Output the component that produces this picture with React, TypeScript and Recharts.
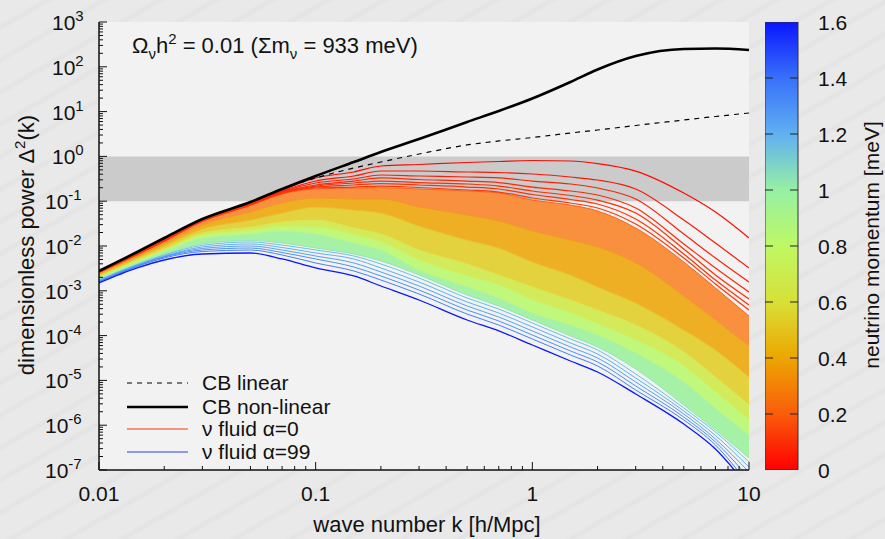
import React from "react";
import {
  ComposedChart,
  Line,
  Area,
  XAxis,
  YAxis,
  ReferenceArea,
  Legend,
  BarChart,
  Bar,
} from "recharts";

const FONT = "'Liberation Sans', Arial, Helvetica, sans-serif";

const kValues = [0.01, 0.015, 0.02, 0.03, 0.05, 0.07, 0.1, 0.15, 0.2, 0.3, 0.5, 0.7, 1, 1.5, 2, 3, 5, 7, 10];

// cold matter + baryons
const cbLinear = [2.77e-3, 7.35e-3, 1.51e-2, 4.01e-2, 9.6e-2, 0.187, 0.33, 0.55, 0.75, 1.13, 1.8, 2.21, 2.64, 3.33, 3.88, 4.9, 6.49, 7.78, 9.31];
const cbNonLinear = [2.77e-3, 7.35e-3, 1.51e-2, 4.01e-2, 9.6e-2, 0.187, 0.365, 0.75, 1.25, 2.44, 5.86, 10.3, 19.6, 45.8, 87, 174, 250, 256, 237];

// separate low-momentum fluids at the top of the fan (alpha = 0..6)
const fluid0 = [2.72e-3, 6.98e-3, 1.4e-2, 3.91e-2, 9.12e-2, 0.178, 0.33, 0.449, 0.61, 0.66, 0.73, 0.77, 0.81, 0.79, 0.69, 0.47, 0.152, 0.0574, 0.0151];
const fluid1 = [2.63e-3, 6.8e-3, 1.36e-2, 3.8e-2, 8.89e-2, 0.169, 0.282, 0.365, 0.472, 0.472, 0.449, 0.437, 0.405, 0.347, 0.297, 0.187, 0.038, 0.01167, 3.23e-3];
const fluid2 = [2.63e-3, 6.8e-3, 1.36e-2, 3.8e-2, 8.66e-2, 0.165, 0.255, 0.313, 0.384, 0.365, 0.347, 0.33, 0.282, 0.242, 0.197, 0.112, 0.0185, 5.4e-3, 1.57e-3];
const fluid3 = [2.63e-3, 6.63e-3, 1.33e-2, 3.71e-2, 8.44e-2, 0.16, 0.23, 0.282, 0.33, 0.305, 0.282, 0.261, 0.207, 0.169, 0.1375, 0.0705, 0.0111, 3.23e-3, 9.4e-4];
const fluid4 = [2.63e-3, 6.63e-3, 1.33e-2, 3.71e-2, 8.44e-2, 0.156, 0.218, 0.255, 0.282, 0.261, 0.242, 0.218, 0.169, 0.134, 0.106, 0.0545, 8.57e-3, 2.25e-3, 6.56e-4];
const fluid5 = [2.63e-3, 6.63e-3, 1.29e-2, 3.61e-2, 8.22e-2, 0.152, 0.207, 0.23, 0.248, 0.23, 0.207, 0.187, 0.141, 0.109, 0.0866, 0.0401, 6.63e-3, 1.74e-3, 4.82e-4];
const fluid6 = [2.56e-3, 6.46e-3, 1.29e-2, 3.61e-2, 8.22e-2, 0.149, 0.197, 0.207, 0.218, 0.202, 0.178, 0.16, 0.118, 0.0912, 0.0705, 0.031, 5.4e-3, 1.42e-3, 3.73e-4];

// the dense middle of the fan, read where the colour changes
const denseTop = [2.56e-3, 6.3e-3, 1.26e-2, 3.52e-2, 8.02e-2, 0.145, 0.187, 0.197, 0.2, 0.187, 0.169, 0.152, 0.106, 0.0822, 0.0604, 0.0252, 4.4e-3, 1.16e-3, 2.74e-4];
const denseOrange = [2.43e-3, 5.83e-3, 1.14e-2, 2.94e-2, 5.74e-2, 9.12e-2, 0.118, 0.112, 0.112, 0.0743, 0.0492, 0.0361, 0.0216, 0.0136, 9.5e-3, 4.18e-3, 7.65e-4, 2.23e-4, 5.86e-5];
const denseAmber = [2.25e-3, 5.4e-3, 1.0e-2, 2.4e-2, 3.8e-2, 5.45e-2, 0.0743, 0.0636, 0.0545, 0.0279, 0.0136, 9.02e-3, 4.4e-3, 2.25e-3, 1.22e-3, 5.34e-4, 1.33e-4, 4.77e-5, 1.19e-5];
const denseYellow = [2.08e-3, 4.87e-3, 8.57e-3, 1.95e-2, 2.65e-2, 3.43e-2, 0.038, 0.0252, 0.0185, 8.14e-3, 3.97e-3, 2.25e-3, 1.22e-3, 6.23e-4, 3.73e-4, 1.72e-4, 4.3e-5, 1.19e-5, 2.83e-6];
const denseLime = [1.98e-3, 4.63e-3, 7.94e-3, 1.72e-2, 2.22e-2, 2.72e-2, 2.65e-2, 1.76e-2, 1.23e-2, 4.87e-3, 2.14e-3, 1.35e-3, 6.23e-4, 3.19e-4, 1.82e-4, 7.98e-5, 2.1e-5, 5.5e-6, 1.31e-6];
const denseGreen = [1.93e-3, 4.4e-3, 7.54e-3, 1.51e-2, 1.85e-2, 2.16e-2, 1.85e-2, 1.17e-2, 8.14e-3, 2.91e-3, 1.22e-3, 6.9e-4, 3.19e-4, 1.72e-4, 1.03e-4, 4.09e-5, 9.2e-6, 2.42e-6, 6.04e-7];
const denseCyan = [1.79e-3, 3.97e-3, 6.46e-3, 1.11e-2, 1.33e-2, 1.17e-2, 9.02e-3, 6.63e-3, 4.63e-3, 2.25e-3, 8.06e-4, 4.58e-4, 2.23e-4, 9.8e-5, 5.57e-5, 1.8e-5, 2.83e-6, 7.8e-7, 1.85e-7];

// separate high-momentum fluids at the bottom (light blue ones, then alpha = 99)
const fluid94 = [1.74e-3, 3.87e-3, 6.3e-3, 1.03e-2, 1.23e-2, 1.05e-2, 8.14e-3, 5.98e-3, 3.97e-3, 1.93e-3, 6.9e-4, 3.92e-4, 1.91e-4, 8.4e-5, 4.77e-5, 1.39e-5, 2.42e-6, 7.05e-7, 1.51e-7];
const fluid95 = [1.7e-3, 3.77e-3, 5.98e-3, 9.5e-3, 1.11e-2, 9.26e-3, 6.98e-3, 5.13e-3, 3.23e-3, 1.57e-3, 5.62e-4, 3.19e-4, 1.56e-4, 6.84e-5, 3.88e-5, 1.13e-5, 2.07e-6, 5.89e-7, 1.17e-7];
const fluid96 = [1.66e-3, 3.67e-3, 5.83e-3, 8.8e-3, 1.0e-2, 8.14e-3, 5.98e-3, 4.18e-3, 2.63e-3, 1.28e-3, 4.58e-4, 2.6e-4, 1.27e-4, 5.57e-5, 3.16e-5, 9.2e-6, 1.78e-6, 4.92e-7, 9.0e-8];
const fluid97 = [1.61e-3, 3.58e-3, 5.68e-3, 8.14e-3, 9.02e-3, 7.16e-3, 5.13e-3, 3.4e-3, 2.14e-3, 1.04e-3, 3.73e-4, 2.12e-4, 1.03e-4, 4.53e-5, 2.58e-5, 7.5e-6, 1.52e-6, 4.22e-7, 6.6e-8];
const fluid98 = [1.57e-3, 3.49e-3, 5.4e-3, 7.54e-3, 8.14e-3, 6.3e-3, 4.18e-3, 2.77e-3, 1.74e-3, 8.49e-4, 3.03e-4, 1.72e-4, 8.4e-5, 3.69e-5, 2.1e-5, 6.1e-6, 1.31e-6, 3.61e-7, 4.6e-8];
const fluid99 = [1.49e-3, 3.23e-3, 4.87e-3, 6.63e-3, 6.98e-3, 5.13e-3, 3.23e-3, 2.14e-3, 1.28e-3, 6.23e-4, 2.23e-4, 1.27e-4, 6.17e-5, 2.71e-5, 1.54e-5, 4.97e-6, 1.06e-6, 2.94e-7, 3.96e-8];

// neutrino momentum [meV] of each curve
const topMomenta = [0.02, 0.05, 0.07, 0.09, 0.1, 0.11, 0.12];
const denseMomenta = [0.18, 0.33, 0.45, 0.6, 0.75, 0.9, 1.05];
const bottomMomenta = [1.15, 1.2, 1.25, 1.3, 1.35, 1.6];

const xTicks = [0.01, 0.02, 0.03, 0.04, 0.05, 0.06, 0.07, 0.08, 0.09, 0.1, 0.2, 0.3, 0.4, 0.5, 0.6, 0.7, 0.8, 0.9, 1, 2, 3, 4, 5, 6, 7, 8, 9, 10];
const yDecades = [1e-7, 1e-6, 1e-5, 1e-4, 1e-3, 1e-2, 1e-1, 1, 10, 100, 1000];
const minorSteps = [2, 3, 4, 5, 6, 7, 8, 9];
const yTicks = yDecades.flatMap((d) => (d < 1000 ? [d, ...minorSteps.map((m) => m * d)] : [d]));
const colorbarTicks = [0, 0.2, 0.4, 0.6, 0.8, 1, 1.2, 1.4, 1.6];
const colorbarData = [{ name: "momentum", top: 1.6 }];

// colour map of the colour box, momentum -> rgb
const colorStops: number[][] = [
  [0, 255, 0, 0],
  [0.2, 250, 92, 12],
  [0.4, 236, 166, 0],
  [0.6, 216, 224, 56],
  [0.8, 190, 248, 100],
  [1.0, 150, 240, 164],
  [1.2, 96, 176, 242],
  [1.4, 56, 112, 250],
  [1.6, 10, 22, 255],
];

// whiten mixes the colour with white, the dense fan looks paler than the box
function momentumColor(p: number, whiten = 0): string {
  for (let i = 1; i < colorStops.length; i++) {
    const [p1, r1, g1, b1] = colorStops[i];
    const [p0, r0, g0, b0] = colorStops[i - 1];
    if (p <= p1) {
      const t = (p - p0) / (p1 - p0);
      const c = (a: number, b: number) => {
        const v = a + (b - a) * t;
        return Math.round(v + (255 - v) * whiten);
      };
      return `rgb(${c(r0, r1)},${c(g0, g1)},${c(b0, b1)})`;
    }
  }
  return "rgb(10,22,255)";
}

// the striped top of the fan shows a lot of background between its lines
const bandWhiten = [0.22, 0.14, 0.12, 0.1, 0.1, 0.1];

const topSeries = [fluid0, fluid1, fluid2, fluid3, fluid4, fluid5, fluid6].map((values, i) => ({
  key: `top${i}`,
  values,
  color: momentumColor(topMomenta[i]),
}));
const denseSeries = [denseTop, denseOrange, denseAmber, denseYellow, denseLime, denseGreen, denseCyan].map(
  (values, i) => ({ key: `dense${i}`, values, p: denseMomenta[i], color: momentumColor(denseMomenta[i], 0.1) })
);
const bottomSeries = [fluid94, fluid95, fluid96, fluid97, fluid98, fluid99].map((values, i) => ({
  key: `bottom${i}`,
  values,
  color: momentumColor(bottomMomenta[i]),
}));

const chartData = kValues.map((k, i) => {
  const row: Record<string, number> = { k, lin: cbLinear[i], nl: cbNonLinear[i] };
  [...topSeries, ...denseSeries, ...bottomSeries].forEach((s) => {
    row[s.key] = s.values[i];
  });
  return row;
});

const isMajor = (v: number) => {
  const l = Math.log10(v);
  return Math.abs(l - Math.round(l)) < 1e-6;
};

const BottomTick = (props: any) => {
  const { x, y, payload } = props;
  const major = isMajor(payload.value);
  return (
    <g>
      <line x1={x} x2={x} y1={y} y2={y - (major ? 8 : 4)} stroke="#111" strokeWidth={1} />
      {major && (
        <text x={x} y={y + 31} textAnchor="middle" fontSize={21} fontFamily={FONT} fill="#111">
          {String(payload.value)}
        </text>
      )}
    </g>
  );
};

const TopTick = (props: any) => {
  const { x, y, payload } = props;
  const major = isMajor(payload.value);
  return <line x1={x} x2={x} y1={y} y2={y + (major ? 8 : 4)} stroke="#111" strokeWidth={1} />;
};

const LeftTick = (props: any) => {
  const { x, y, payload } = props;
  const major = isMajor(payload.value);
  const exp = Math.round(Math.log10(payload.value));
  return (
    <g>
      <line x1={x} x2={x + (major ? 8 : 4)} y1={y} y2={y} stroke="#111" strokeWidth={1} />
      {major && (
        <text x={exp < 0 ? 45 : 52} y={y + 8} fontSize={21} fontFamily={FONT} fill="#111">
          10
          <tspan dy={-9} fontSize={15}>
            {String(exp)}
          </tspan>
        </text>
      )}
    </g>
  );
};

const RightTick = (props: any) => {
  const { x, y, payload } = props;
  const major = isMajor(payload.value);
  return <line x1={x} x2={x - (major ? 8 : 4)} y1={y} y2={y} stroke="#111" strokeWidth={1} />;
};

const ColorbarTick = (props: any) => {
  const { x, y, payload } = props;
  const inner = payload.value > 0 && payload.value < 1.6;
  return (
    <g>
      {inner && <line x1={x} x2={x - 8} y1={y} y2={y} stroke="#222" strokeWidth={1} />}
      {inner && <line x1={x - 33} x2={x - 25} y1={y} y2={y} stroke="#222" strokeWidth={1} />}
      <text x={x + 20} y={y + 8} fontSize={21} fontFamily={FONT} fill="#111">
        {String(payload.value)}
      </text>
    </g>
  );
};

function renderLegend() {
  const rows = [
    { label: "CB linear", stroke: "#000", width: 1.2, dash: "5 5" },
    { label: "CB non-linear", stroke: "#000", width: 2.6, dash: undefined },
    { label: "\u03bd fluid \u03b1=0", stroke: "#f4735f", width: 1.4, dash: undefined },
    { label: "\u03bd fluid \u03b1=99", stroke: "#2a3cf2", width: 1.2, dash: undefined },
  ];
  const ys = [15, 39, 61, 84];
  return (
    <svg width={260} height={100}>
      {rows.map((r, i) => (
        <g key={r.label}>
          <line x1={7} x2={68} y1={ys[i]} y2={ys[i]} stroke={r.stroke} strokeWidth={r.width} strokeDasharray={r.dash} />
          <text x={82} y={ys[i] + 7} fontSize={21} fontFamily={FONT} fill="#111">
            {r.label}
          </text>
        </g>
      ))}
    </svg>
  );
}

export default function App() {
  return (
    <div
      style={{
        position: "fixed",
        left: 0,
        top: 0,
        width: 885,
        height: 539,
        overflow: "hidden",
        fontFamily: FONT,
        background: "repeating-linear-gradient(150deg, #e9e9e9 0px, #e9e9e9 20px, #e3e3e3 24px, #e9e9e9 28px)",
      }}
    >
      <div style={{ position: "absolute", left: 0, top: 0 }}>
        <ComposedChart width={885} height={539} data={chartData} margin={{ top: 22, right: 136, bottom: 0, left: 0 }}>
          <ReferenceArea xAxisId="b" yAxisId="l" x1={0.01} x2={10} y1={1e-7} y2={1e3} fill="#f2f2f2" fillOpacity={1} stroke="none" ifOverflow="hidden" />
          <ReferenceArea xAxisId="b" yAxisId="l" x1={0.01} x2={10} y1={0.1} y2={1} fill="#cbcbcb" fillOpacity={1} stroke="none" ifOverflow="hidden" />
          <XAxis
            xAxisId="b"
            dataKey="k"
            type="number"
            scale="log"
            domain={[0.01, 10]}
            allowDataOverflow
            ticks={xTicks}
            interval={0}
            tick={BottomTick}
            tickLine={false}
            tickSize={0}
            tickMargin={0}
            height={69}
            axisLine={{ stroke: "#111", strokeWidth: 1.5 }}
          />
          <XAxis
            xAxisId="t"
            orientation="top"
            dataKey="k"
            type="number"
            scale="log"
            domain={[0.01, 10]}
            allowDataOverflow
            ticks={xTicks}
            interval={0}
            tick={TopTick}
            tickLine={false}
            tickSize={0}
            tickMargin={0}
            height={0}
            axisLine={{ stroke: "#111", strokeWidth: 1.5 }}
          />
          <YAxis
            yAxisId="l"
            type="number"
            scale="log"
            domain={[1e-7, 1e3]}
            allowDataOverflow
            ticks={yTicks}
            interval={0}
            tick={LeftTick}
            tickLine={false}
            tickSize={0}
            tickMargin={0}
            width={99}
            axisLine={{ stroke: "#111", strokeWidth: 1.5 }}
          />
          <YAxis
            yAxisId="r"
            orientation="right"
            type="number"
            scale="log"
            domain={[1e-7, 1e3]}
            allowDataOverflow
            ticks={yTicks}
            interval={0}
            tick={RightTick}
            tickLine={false}
            tickSize={0}
            tickMargin={0}
            width={0}
            axisLine={{ stroke: "#111", strokeWidth: 1.5 }}
          />
          {denseSeries.slice(0, -1).map((s, i) => {
            const lower = denseSeries[i + 1];
            return (
              <Area
                key={`band${i}`}
                xAxisId="b"
                yAxisId="l"
                type="monotone"
                dataKey={(d: any) => [d[lower.key], d[s.key]]}
                fill={momentumColor((s.p + lower.p) / 2, bandWhiten[i])}
                fillOpacity={1}
                stroke="none"
                dot={false}
                activeDot={false}
                isAnimationActive={false}
              />
            );
          })}
          {denseSeries.map((s) => (
            <Line key={s.key} xAxisId="b" yAxisId="l" type="monotone" dataKey={s.key} stroke={s.color} strokeWidth={1} dot={false} activeDot={false} isAnimationActive={false} />
          ))}
          {bottomSeries.map((s, i) => (
            <Line
              key={s.key}
              xAxisId="b"
              yAxisId="l"
              type="monotone"
              dataKey={s.key}
              stroke={s.color}
              strokeWidth={i === bottomSeries.length - 1 ? 1.3 : 1}
              dot={false}
              activeDot={false}
              isAnimationActive={false}
            />
          ))}
          {topSeries.map((s) => (
            <Line key={s.key} xAxisId="b" yAxisId="l" type="monotone" dataKey={s.key} stroke={s.color} strokeWidth={1.2} dot={false} activeDot={false} isAnimationActive={false} />
          ))}
          <Line xAxisId="b" yAxisId="l" type="monotone" dataKey="lin" stroke="#000" strokeWidth={1.2} strokeDasharray="5 5" dot={false} activeDot={false} isAnimationActive={false} />
          <Line xAxisId="b" yAxisId="l" type="monotone" dataKey="nl" stroke="#000" strokeWidth={2.6} dot={false} activeDot={false} isAnimationActive={false} />
          <Legend
            content={renderLegend}
            layout="vertical"
            align="center"
            verticalAlign="middle"
            wrapperStyle={{ left: 120, top: 368, width: 260, height: 100 }}
          />
        </ComposedChart>
      </div>

      <div style={{ position: "absolute", left: 765, top: 0 }}>
        <BarChart width={120} height={539} data={colorbarData} margin={{ top: 22, right: 0, bottom: 69, left: 0 }} barCategoryGap={0}>
          <defs>
            <linearGradient id="cbGrad" x1="0" y1="1" x2="0" y2="0">
              {colorStops.map((s) => (
                <stop key={s[0]} offset={s[0] / 1.6} stopColor={`rgb(${s[1]},${s[2]},${s[3]})`} />
              ))}
            </linearGradient>
          </defs>
          <XAxis dataKey="name" hide />
          <YAxis
            orientation="right"
            type="number"
            domain={[0, 1.6]}
            allowDataOverflow
            ticks={colorbarTicks}
            interval={0}
            tick={ColorbarTick}
            tickLine={false}
            tickSize={0}
            tickMargin={0}
            axisLine={false}
            width={87}
          />
          <Bar dataKey="top" fill="url(#cbGrad)" stroke="#333" strokeWidth={1} isAnimationActive={false} />
        </BarChart>
      </div>

      <svg width={885} height={539} style={{ position: "absolute", left: 0, top: 0, pointerEvents: "none" }}>
        <text x={132} y={53} fontSize={22} fontFamily={FONT} fill="#111">
          {"\u03a9"}
          <tspan dy={6} fontSize={15}>{"\u03bd"}</tspan>
          <tspan dy={-6}>h</tspan>
          <tspan dy={-9} fontSize={15}>2</tspan>
          <tspan dy={9}>{" = 0.01 (\u03a3m"}</tspan>
          <tspan dy={6} fontSize={15}>{"\u03bd"}</tspan>
          <tspan dy={-6}>{" = 933 meV)"}</tspan>
        </text>
        <text transform="translate(34,245) rotate(-90)" textAnchor="middle" fontSize={22} fontFamily={FONT} fill="#111">
          {"dimensionless power \u0394"}
          <tspan dy={-9} fontSize={15}>2</tspan>
          <tspan dy={9}>(k)</tspan>
        </text>
        <text x={427} y={532} textAnchor="middle" fontSize={22} fontFamily={FONT} fill="#111">
          wave number k [h/Mpc]
        </text>
        <text transform="translate(879,245) rotate(-90)" textAnchor="middle" fontSize={21} fontFamily={FONT} fill="#111">
          neutrino momentum [meV]
        </text>
      </svg>
    </div>
  );
}
